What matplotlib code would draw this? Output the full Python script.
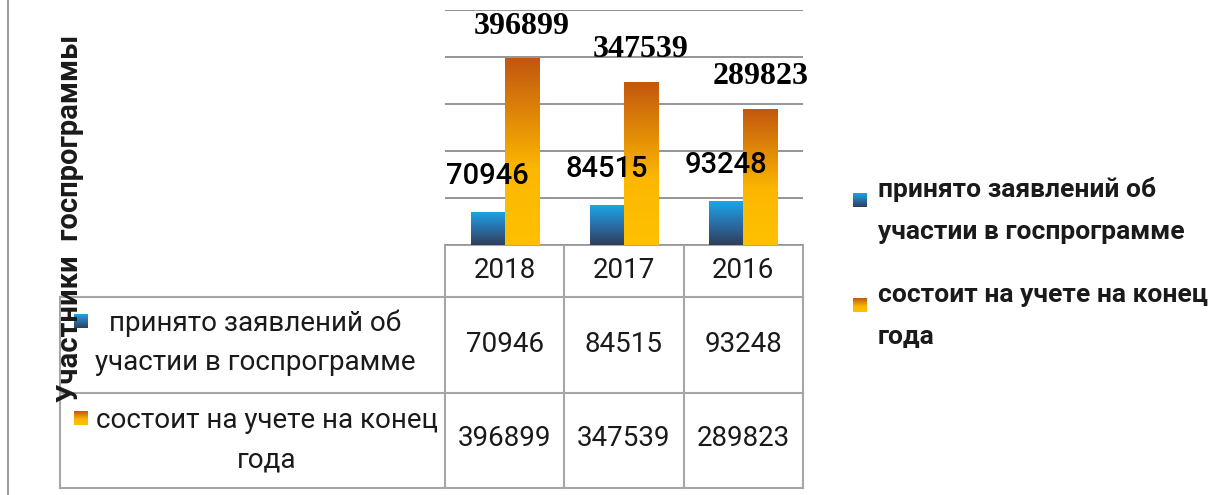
import matplotlib.pyplot as plt
import numpy as np
from matplotlib import transforms
from matplotlib.colors import LinearSegmentedColormap

# данные
years = ['2018', '2017', '2016']
prinyato = [70946, 84515, 93248]
sostoit = [396899, 347539, 289823]
series_names = ['принято заявлений об\nучастии в госпрограмме',
                'состоит на учете на конец\nгода']
y_title = 'Участники  госпрограммы'

plt.rcParams['font.family'] = ['Roboto', 'DejaVu Sans']

blue_cm = LinearSegmentedColormap.from_list('blue', ['#2f3e5a', '#2a6fa8', '#1ba6e6'])
orange_cm = LinearSegmentedColormap.from_list(
    'orange', [(0, '#ffc000'), (0.4, '#fcb800'), (1, '#c2560f')])
grad = np.linspace(0, 1, 256).reshape(-1, 1)

W, H = 1226, 495
fig = plt.figure(figsize=(W / 100, H / 100), dpi=100)

# слой в пиксельных координатах для таблицы и легенды
ov = fig.add_axes([0, 0, 1, 1])
ov.axis('off')
ov.set_autoscale_on(False)
ov.set_xlim(0, W)
ov.set_ylim(H, 0)

ax = fig.add_axes([445 / W, 1 - 245 / H, 358 / W, 235 / H])
x = np.arange(len(years))
bw = 0.285
b1 = ax.bar(x - bw / 2, prinyato, bw, color='none', edgecolor='none')
b2 = ax.bar(x + bw / 2, sostoit, bw, color='none', edgecolor='none')

# градиентная заливка столбцов
for bars, cm in ((b1, blue_cm), (b2, orange_cm)):
    for r in bars:
        x0 = r.get_x()
        im = ax.imshow(grad, extent=(x0, x0 + r.get_width(), 0, r.get_height()),
                       origin='lower', cmap=cm, aspect='auto', zorder=3)
        im.set_clip_path(r)

ax.set_xlim(-0.5, len(years) - 0.5)
ax.set_ylim(0, 500000)
ax.set_yticks(np.arange(0, 500001, 100000))
ax.yaxis.grid(True, color='#8c8c8c', lw=1.3)
ax.set_axisbelow(True)
ax.tick_params(length=0, labelleft=False, labelbottom=False)
for s in ax.spines.values():
    s.set_visible(False)

# подписи значений
for i in range(len(years)):
    ax.annotate(str(prinyato[i]), (x[i] - bw / 2, prinyato[i]), xytext=(0, 26),
                textcoords='offset points', ha='center', va='center',
                fontsize=21, fontweight='medium', zorder=5)
    ax.annotate(str(sostoit[i]), (x[i] + bw / 2, sostoit[i]), xytext=(0, 23),
                textcoords='offset points', ha='center', va='center',
                fontsize=23, fontweight='bold', family='Liberation Serif',
                annotation_clip=False, zorder=5)

# таблица данных
tr = transforms.blended_transform_factory(ax.transData, ov.transData)
lc = '#a6a6a6'
for e in np.arange(len(years) + 1) - 0.5:
    ov.plot([e, e], [245, 488], color=lc, lw=1.5, transform=tr)
ov.plot([445, 803], [245, 245], color=lc, lw=1.5)
for yy in (297, 393, 488):
    ov.plot([60, 803], [yy, yy], color=lc, lw=1.5)
ov.plot([60, 60], [297, 488], color=lc, lw=1.5)
ov.plot([8, 8], [0, 495], color='#a0a0a0', lw=1.5)

for i in range(len(years)):
    ov.text(x[i], 271, years[i], transform=tr, ha='center', va='center',
            fontsize=20, color='#1a1a1a')
    ov.text(x[i], 344, str(prinyato[i]), transform=tr, ha='center', va='center',
            fontsize=20, color='#1a1a1a')
    ov.text(x[i], 439, str(sostoit[i]), transform=tr, ha='center', va='center',
            fontsize=20, color='#1a1a1a')

def key(cm, x0, y0, size=14):
    im = ov.imshow(grad, extent=(x0, x0 + size, y0 + size, y0), origin='lower',
                   cmap=cm, aspect='auto', zorder=4)
    return im

# подписи строк таблицы
row_cx = [255, 267]
row_y = [323, 420]
for k, (name, cm) in enumerate(zip(series_names, (blue_cm, orange_cm))):
    key(cm, 74, row_y[k] - 9)
    for j, line in enumerate(name.split('\n')):
        ov.text(row_cx[k], row_y[k] + 40 * j, line, ha='center', va='center',
                fontsize=20, color='#1a1a1a')

# легенда справа
leg_y = [190, 295]
for k, (name, cm) in enumerate(zip(series_names, (blue_cm, orange_cm))):
    key(cm, 853, leg_y[k] + 3)
    for j, line in enumerate(name.split('\n')):
        ov.text(878, leg_y[k] + 42 * j, line, ha='left', va='center',
                fontsize=19, fontweight='bold', color='#1a1a1a')

ov.text(70, 218, y_title, rotation=90, ha='center', va='center',
        fontsize=21, fontweight='bold', color='#1a1a1a', zorder=5)

ov.set_xlim(0, W)
ov.set_ylim(H, 0)
fig.savefig('out.png', dpi=100)
